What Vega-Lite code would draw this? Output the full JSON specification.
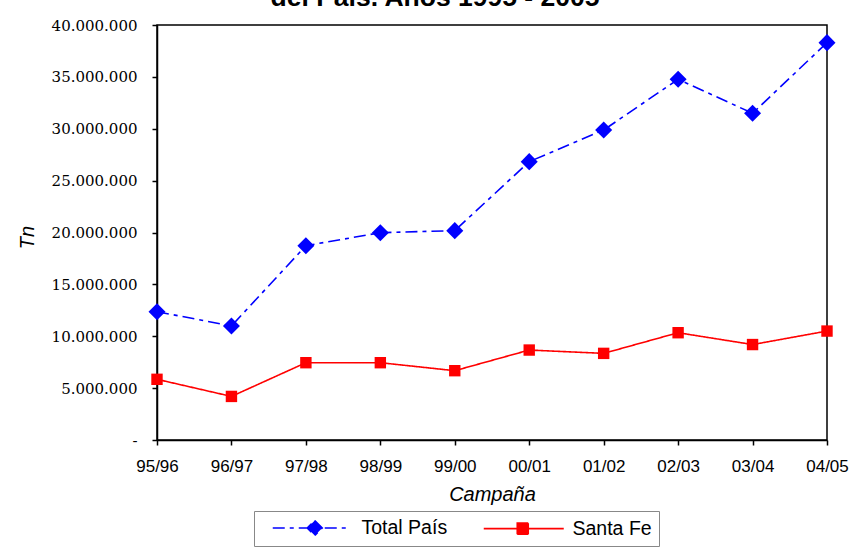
{
  "$schema": "https://vega.github.io/schema/vega-lite/v6.json",
  "autosize": {"type": "none"},
  "padding": {"left": 157, "top": 25, "right": 27, "bottom": 107},
  "width": 670,
  "height": 415,
  "background": "white",
  "title": {
    "text": "del País. Años 1995 - 2005",
    "font": "Liberation Sans",
    "fontSize": 26.5,
    "fontWeight": "bold",
    "color": "black",
    "anchor": "middle",
    "frame": "group",
    "baseline": "alphabetic",
    "offset": 0,
    "dx": -57,
    "dy": 14
  },
  "data": {
    "values": [
      {"campana": "95/96", "serie": "Total País", "tn": 12370000},
      {"campana": "96/97", "serie": "Total País", "tn": 10990000},
      {"campana": "97/98", "serie": "Total País", "tn": 18730000},
      {"campana": "98/99", "serie": "Total País", "tn": 19980000},
      {"campana": "99/00", "serie": "Total País", "tn": 20180000},
      {"campana": "00/01", "serie": "Total País", "tn": 26830000},
      {"campana": "01/02", "serie": "Total País", "tn": 29880000},
      {"campana": "02/03", "serie": "Total País", "tn": 34770000},
      {"campana": "03/04", "serie": "Total País", "tn": 31490000},
      {"campana": "04/05", "serie": "Total País", "tn": 38300000},
      {"campana": "95/96", "serie": "Santa Fe", "tn": 5850000},
      {"campana": "96/97", "serie": "Santa Fe", "tn": 4200000},
      {"campana": "97/98", "serie": "Santa Fe", "tn": 7450000},
      {"campana": "98/99", "serie": "Santa Fe", "tn": 7450000},
      {"campana": "99/00", "serie": "Santa Fe", "tn": 6680000},
      {"campana": "00/01", "serie": "Santa Fe", "tn": 8670000},
      {"campana": "01/02", "serie": "Santa Fe", "tn": 8350000},
      {"campana": "02/03", "serie": "Santa Fe", "tn": 10340000},
      {"campana": "03/04", "serie": "Santa Fe", "tn": 9200000},
      {"campana": "04/05", "serie": "Santa Fe", "tn": 10500000}
    ]
  },
  "encoding": {
    "x": {
      "field": "campana",
      "type": "ordinal",
      "sort": null,
      "scale": {"type": "point", "padding": 0},
      "axis": {
        "title": "Campaña",
        "titleFont": "Liberation Sans",
        "titleFontSize": 20,
        "titleFontStyle": "italic",
        "titleFontWeight": "normal",
        "titleColor": "black",
        "titleBaseline": "alphabetic",
        "titleY": 60,
        "labelFont": "Liberation Sans",
        "labelFontSize": 17,
        "labelColor": "black",
        "labelAngle": 0,
        "labelPadding": 13,
        "labelOverlap": false,
        "tickColor": "black",
        "tickSize": 5,
        "tickWidth": 1.5,
        "domainColor": "black",
        "domainWidth": 1.5,
        "grid": false
      }
    },
    "y": {
      "field": "tn",
      "type": "quantitative",
      "scale": {"domain": [0, 40000000], "nice": false, "zero": true},
      "axis": {
        "title": "Tn",
        "titleFont": "Liberation Sans",
        "titleFontSize": 20,
        "titleFontStyle": "italic",
        "titleFontWeight": "normal",
        "titleColor": "black",
        "titleX": -120,
        "titleY": 212,
        "values": [0, 5000000, 10000000, 15000000, 20000000, 25000000, 30000000, 35000000, 40000000],
        "labelExpr": "datum.value == 0 ? '-\u00a0\u00a0\u00a0\u00a0' : replace(format(datum.value, ','), regexp(',', 'g'), '.')",
        "labelFont": "DejaVu Serif",
        "labelFontSize": 15,
        "labelColor": "black",
        "labelPadding": 15,
        "tickColor": "black",
        "tickSize": 5,
        "tickWidth": 1.5,
        "domainColor": "black",
        "domainWidth": 1.5,
        "grid": false
      }
    }
  },
  "layer": [
    {
      "mark": {"type": "line", "strokeWidth": 1.6},
      "encoding": {
        "color": {
          "field": "serie",
          "type": "nominal",
          "scale": {"domain": ["Total País", "Santa Fe"], "range": ["#0000ff", "#ff0000"]},
          "legend": {
            "title": null,
            "orient": "none",
            "legendX": 97,
            "legendY": 486,
            "direction": "horizontal",
            "padding": 7,
            "strokeColor": "#888888",
            "fillColor": "white",
            "labelFont": "Liberation Sans",
            "labelFontSize": 19.5,
            "labelColor": "black",
            "labelOffset": 81,
            "columnPadding": 24,
            "symbolSize": 100,
            "symbolStrokeWidth": 1.6,
            "encode": {
              "symbols": {
                "update": {
                  "shape": {"signal": "datum.value == 'Total País' ? 'M0.4,0H15.4M8.8,-1.5L10.3,0L8.8,1.5L7.3,0Z' : 'M0.4,0H16.4M7.1,-1.1H9.3V1.1H7.1Z'"},
                  "size": {"value": 100},
                  "strokeDash": {"signal": "datum.value == 'Total País' ? [12,5,4,5] : [1,0]"},
                  "fill": {"signal": "scale('color', datum.value)"},
                  "stroke": {"signal": "scale('color', datum.value)"},
                  "strokeWidth": {"value": 1.6},
                  "fillOpacity": {"value": 1},
                  "opacity": {"value": 1}
                }
              }
            }
          }
        },
        "strokeDash": {
          "field": "serie",
          "type": "nominal",
          "scale": {"domain": ["Total País", "Santa Fe"], "range": [[12, 5, 4, 5], [1, 0]]},
          "legend": null
        }
      }
    },
    {
      "transform": [{"filter": "datum.serie == 'Total País'"}],
      "mark": {"type": "point", "filled": true, "opacity": 1, "shape": "diamond", "size": 290, "color": "#0000ff"}
    },
    {
      "transform": [{"filter": "datum.serie == 'Santa Fe'"}],
      "mark": {"type": "point", "filled": true, "opacity": 1, "shape": "square", "size": 130, "color": "#ff0000"}
    }
  ],
  "config": {
    "view": {"stroke": "black", "strokeWidth": 1.5}
  }
}
